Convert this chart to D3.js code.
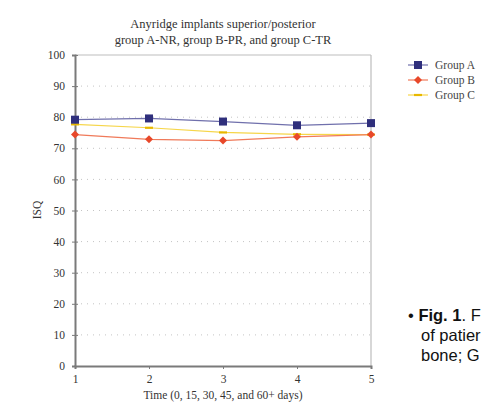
<!DOCTYPE html>
<html><head><meta charset="utf-8">
<script src="https://cdn.jsdelivr.net/npm/d3@7"></script>
<style>
html,body{margin:0;padding:0;background:#fff;}
svg{display:block;}
</style></head>
<body>
<svg id="chart" width="484" height="402"></svg>
<script>
const categories = [1, 2, 3, 4, 5];
const groupA = [79.2, 79.6, 78.6, 77.4, 78.1];
const groupB = [74.4, 72.9, 72.5, 73.7, 74.4];
const groupC = [77.7, 76.6, 75.1, 74.5, 74.4];
const seriesNames = ["Group A", "Group B", "Group C"];
const yTicks = [0, 10, 20, 30, 40, 50, 60, 70, 80, 90, 100];
const titleLines = ["Anyridge implants superior/posterior", "group A-NR, group B-PR, and group C-TR"];
const xTitle = "Time (0, 15, 30, 45, and 60+ days)";
const yTitle = "ISQ";
const sideText = [["• ", "Fig. 1", ". F"], ["", "of patier", ""], ["", "bone; G", ""]];

const svg = d3.select("#chart");
const serif = "'Liberation Serif','DejaVu Serif',serif";
const L = 75, R = 371, T = 55, B = 366;
const x = d3.scaleLinear().domain([1, 5]).range([L, R]);
const y = d3.scaleLinear().domain([0, 100]).range([B, T]);

// grid
svg.append("g").selectAll("line").data(yTicks.filter(d => d > 0 && d < 100)).join("line")
  .attr("x1", L).attr("x2", R).attr("y1", d => y(d)).attr("y2", d => y(d))
  .attr("stroke", "#c4c4c4").attr("stroke-width", 1).attr("stroke-dasharray", "1,5");

// borders
svg.append("line").attr("x1", L).attr("x2", R).attr("y1", T).attr("y2", T).attr("stroke", "#bdbdbd").attr("stroke-width", 1.2);
svg.append("line").attr("x1", R).attr("x2", R).attr("y1", T).attr("y2", B).attr("stroke", "#bdbdbd").attr("stroke-width", 1.2);

// y axis
const yAxis = d3.axisLeft(y).tickValues(yTicks).tickSize(3).tickPadding(7);
const gy = svg.append("g").attr("transform", `translate(${L},0)`).call(yAxis);
gy.select(".domain").attr("stroke", "#7a7a7a").attr("stroke-width", 2);
gy.selectAll(".tick line").attr("stroke", "#7a7a7a").attr("x2", 3).attr("x1", -3);
gy.selectAll("text").attr("font-family", serif).attr("font-size", 11.5).attr("fill", "#333");

// x axis
const xAxis = d3.axisBottom(x).tickValues(categories).tickSize(3).tickPadding(6).tickFormat(d3.format("d"));
const gx = svg.append("g").attr("transform", `translate(0,${B})`).call(xAxis);
gx.select(".domain").attr("stroke", "#7a7a7a").attr("stroke-width", 2);
gx.selectAll(".tick line").attr("stroke", "#7a7a7a");
gx.selectAll("text").attr("font-family", serif).attr("font-size", 11.5).attr("fill", "#333");

// lines
const line = d3.line().x((d, i) => x(categories[i])).y(d => y(d));
const styles = [
  {data: groupA, line: "#7070ac", mark: "#2f2f7c", shape: "square"},
  {data: groupB, line: "#f07a5a", mark: "#e8482a", shape: "diamond"},
  {data: groupC, line: "#f6d64a", mark: "#e8b800", shape: "dash"}
];
function drawMarker(g, shape, color, cx, cy) {
  if (shape === "square") g.append("rect").attr("x", cx - 4).attr("y", cy - 4).attr("width", 8).attr("height", 8).attr("fill", color);
  else if (shape === "diamond") g.append("path").attr("d", `M${cx},${cy-4}L${cx+4},${cy}L${cx},${cy+4}L${cx-4},${cy}Z`).attr("fill", color);
  else g.append("rect").attr("x", cx - 4).attr("y", cy - 1.1).attr("width", 8).attr("height", 2.2).attr("fill", color);
}
[2, 1, 0].forEach(k => {
  const s = styles[k];
  svg.append("path").datum(s.data).attr("d", line).attr("fill", "none").attr("stroke", s.line).attr("stroke-width", 1.2);
});
[2, 1, 0].forEach(k => {
  const s = styles[k];
  const g = svg.append("g");
  s.data.forEach((v, i) => drawMarker(g, s.shape, s.mark, x(categories[i]), y(v)));
});

// legend
seriesNames.forEach((n, i) => {
  const s = styles[i];
  const ly = 65 + i * 15;
  svg.append("line").attr("x1", 408).attr("x2", 428).attr("y1", ly).attr("y2", ly).attr("stroke", s.line).attr("stroke-width", 1.2);
  const g = svg.append("g");
  drawMarker(g, s.shape, s.mark, 418, ly);
  svg.append("text").attr("x", 435).attr("y", ly + 4).text(n)
    .attr("font-family", serif).attr("font-size", 11.5).attr("fill", "#444");
});

// titles
titleLines.forEach((t, i) => {
  svg.append("text").attr("x", 223).attr("y", 28 + i * 16).attr("text-anchor", "middle").text(t)
    .attr("font-family", serif).attr("font-size", 12.5).attr("fill", "#333");
});
svg.append("text").attr("x", 223).attr("y", 399).attr("text-anchor", "middle").text(xTitle)
  .attr("font-family", serif).attr("font-size", 11.5).attr("fill", "#333");
svg.append("text").attr("transform", "translate(41,210) rotate(-90)").attr("text-anchor", "middle").text(yTitle)
  .attr("font-family", serif).attr("font-size", 11.5).attr("fill", "#333");

// side caption (cropped at right edge, as in the reference)
sideText.forEach((parts, i) => {
  const t = svg.append("text").attr("x", i === 0 ? 408 : 421).attr("y", 321 + i * 20)
    .attr("font-family", "'Liberation Sans',Arial,sans-serif").attr("font-size", 16.5).attr("fill", "#111");
  parts.forEach((p, j) => { if (p) t.append("tspan").text(p).attr("font-weight", (i === 0 && j === 1) ? "bold" : "normal"); });
});
</script>
</body></html>
